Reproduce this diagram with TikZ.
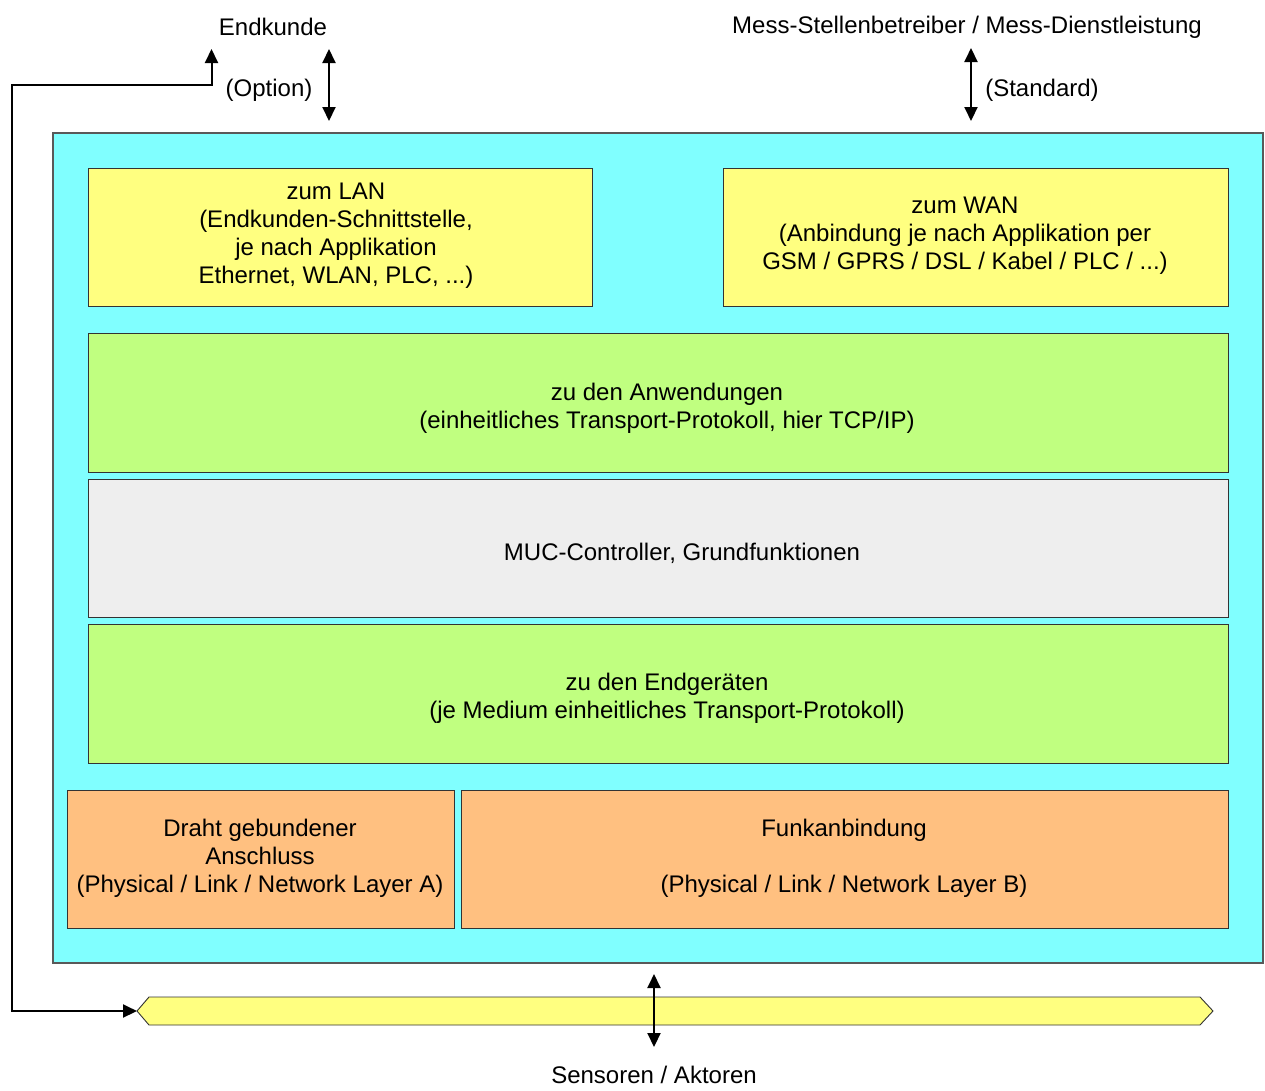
\documentclass[tikz,border=0pt]{standalone}
\usepackage{fontspec}
\setmainfont{Liberation Sans}
\usetikzlibrary{arrows.meta}
\definecolor{cyanbg}{HTML}{80FFFF}
\definecolor{paleyellow}{HTML}{FFFF80}
\definecolor{palegreen}{HTML}{C0FF80}
\definecolor{palegray}{HTML}{EEEEEE}
\definecolor{paleorange}{HTML}{FFC080}
\tikzset{
  layer/.style={draw=black!80, line width=0.9pt, inner sep=0pt},
  lbl/.style={align=center, inner sep=0pt, font=\fontsize{24}{28}\selectfont},
  arr/.style={line width=2pt, {Triangle[length=14pt,width=13pt]}-{Triangle[length=14pt,width=13pt]}},
}
\begin{document}
\begin{tikzpicture}[x=1pt,y=-1pt]
\useasboundingbox (0,0) rectangle (1265,1090);

% housing
\draw[layer, fill=cyanbg, draw=black!65, line width=1.2pt] (53,133) rectangle (1263,963);

% interface layers
\draw[layer, fill=paleyellow] (88,168) rectangle (592,306);
\node[lbl] (lan) at (336,236) {zum LAN\\(Endkunden-Schnittstelle,\\je nach Applikation\\Ethernet, WLAN, PLC, ...)};
\draw[layer, fill=paleyellow] (723,168) rectangle (1228,306);
\node[lbl] (wan) at (965,236) {zum WAN\\(Anbindung je nach Applikation per\\GSM / GPRS / DSL / Kabel / PLC / ...)};

\draw[layer, fill=palegreen] (88,333) rectangle (1228,472);
\node[lbl] (anw) at (667,408) {zu den Anwendungen\\(einheitliches Transport-Protokoll, hier TCP/IP)};

\draw[layer, fill=palegray] (88,479) rectangle (1228,617);
\node[lbl] (muc) at (682,553) {MUC-Controller, Grundfunktionen};

\draw[layer, fill=palegreen] (88,624) rectangle (1228,763);
\node[lbl] (endg) at (667,698) {zu den Endgeräten\\(je Medium einheitliches Transport-Protokoll)};

\draw[layer, fill=paleorange] (67,790) rectangle (454,928);
\node[lbl] (draht) at (260,858) {Draht gebundener\\Anschluss\\(Physical / Link / Network Layer A)};
\draw[layer, fill=paleorange] (461,790) rectangle (1228,928);
\node[lbl] (funk) at (844,858) {Funkanbindung\\[28pt](Physical / Link / Network Layer B)};

% field bus
\draw[layer, fill=paleyellow] (137,1011) -- (149,997) -- (1200,997) -- (1213,1011) -- (1200,1025) -- (149,1025) -- cycle;
\coordinate (bustip) at (137,1011);

% outer labels
\node[lbl] (endkunde) at (273,27) {Endkunde};
\node[lbl] (option) at (269,90) {(Option)};
\node[lbl] (mess) at (967,27) {Mess-Stellenbetreiber / Mess-Dienstleistung};
\node[lbl] (standard) at (1042,90) {(Standard)};
\node[lbl] (sensoren) at (654,1075) {Sensoren / Aktoren};

% connection points
\coordinate (lanTop) at (329,49);
\coordinate (lanBot) at (329,121);
\coordinate (wanTop) at (971,48);
\coordinate (wanBot) at (971,121);
\coordinate (busTop) at (654,974);
\coordinate (busBot) at (654,1047);
\coordinate (optTop) at (211.5,49);

% connectors
\draw[arr] (lanTop) -- (lanBot);
\draw[arr] (wanTop) -- (wanBot);
\draw[arr] (busTop) -- (busBot);
\draw[arr] (bustip) -- (11.5,1011) -- (11.5,85) -- (211.5,85) -- (optTop);
\end{tikzpicture}
\end{document}
